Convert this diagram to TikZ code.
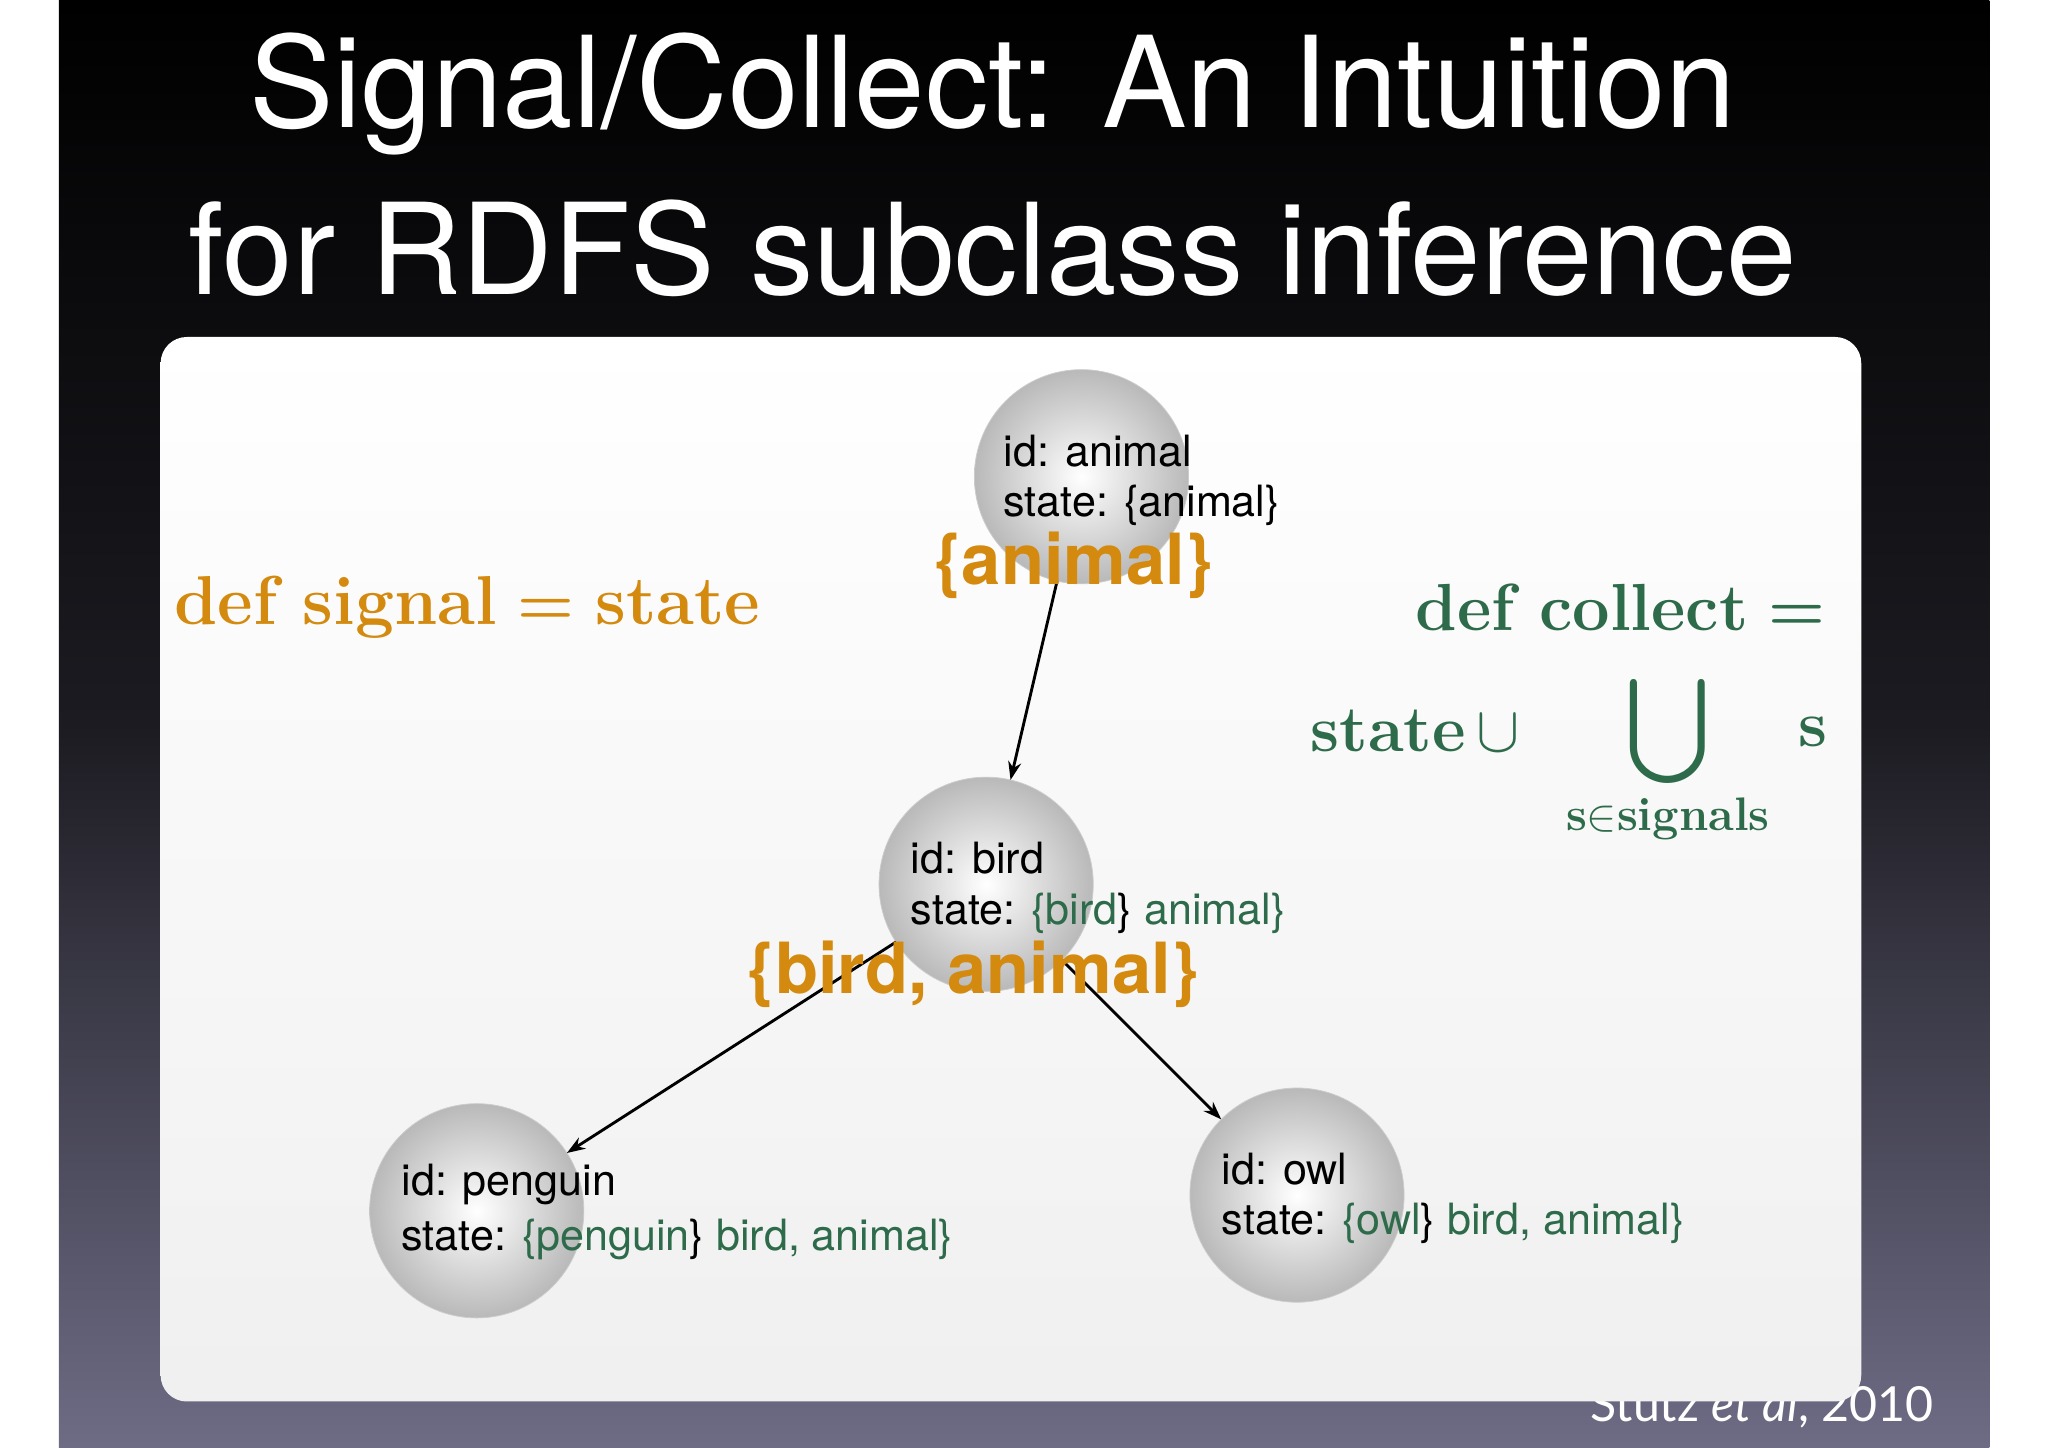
\documentclass[tikz,border=0pt]{standalone}
\usepackage{amsmath}
\usepackage{fontspec}
\setsansfont{TeX Gyre Heros}
\newfontfamily\gill{Lato}
\usetikzlibrary{arrows.meta}
\definecolor{sigor}{HTML}{D4890F}
\definecolor{colgr}{HTML}{2E6B4A}
\definecolor{bgbot}{HTML}{6E6C85}
\tikzset{
  ball/.style={circle,minimum size=82pt,inner sep=0pt,outer sep=0pt,shading=radial,inner color=white,outer color=gray!55,draw=gray!40,line width=0.3pt},
  info/.style={anchor=west,font=\sffamily\fontsize{16.5}{18}\selectfont,text=black,inner sep=0pt},
  sig/.style={font=\sffamily\bfseries\fontsize{27}{30}\selectfont,text=sigor,inner sep=0pt},
  edge/.style={-{Stealth[length=7pt,width=5pt]},line width=1.1pt}
}
\begin{document}
\begin{tikzpicture}[x=0.5pt,y=-0.5pt]
\useasboundingbox (0,0) rectangle (1568,1108);
\fill[white] (0,0) rectangle (1568,1108);
\shade[top color=black,bottom color=bgbot,middle color=black!75!bgbot] (45,0) rectangle (1523,1108);
\node[text=white,font=\gill\fontsize{18.5}{20}\selectfont,anchor=east,inner sep=0pt] (cite) at (1481,1077) {Stutz \textit{et al}, 2010};
\shade[rounded corners=10pt,top color=white,bottom color=gray!12] (123,258) rectangle (1425,1073);
\node[text=white,font=\sffamily\fontsize{48.5}{54}\selectfont,inner sep=0pt] (t1) at (760,72) {Signal/Collect: An Intuition};
\node[text=white,font=\sffamily\fontsize{48.5}{54}\selectfont,inner sep=0pt] (t2) at (760,190) {for RDFS subclass inference};
% balls
\node[ball] (animal) at (828,365) {};
\node[ball] (bird) at (755,677) {};
\node[ball] (penguin) at (365,927) {};
\node[ball] (owl) at (993,915) {};
% texts
\node[info] (a1) at (768,345) {id: animal};
\node[info] (a2) at (768,387) {state: \{animal\}};
\node[info] (b1) at (697,657) {id: bird};
\node[info] (b2) at (697,699) {state: \textcolor{colgr}{\{bird}\}~\textcolor{colgr}{animal\}}};
\node[info] (p1) at (307,907) {id: penguin};
\node[info] (p2) at (307,949) {state: \textcolor{colgr}{\{penguin}\}~\textcolor{colgr}{bird, animal\}}};
\node[info] (o1) at (935,895) {id: owl};
\node[info] (o2) at (935,937) {state: \textcolor{colgr}{\{owl}\}~\textcolor{colgr}{bird, animal\}}};
% edges
\draw[edge] (animal) -- (bird);
\draw[edge] (bird) -- (penguin);
\draw[edge] (bird) -- (owl);
% signals
\node[sig] (sa) at (822,433) {\{animal\}};
\node[sig] (sb) at (745,746) {\{bird, animal\}};
% formulas
\node[anchor=west,text=sigor,inner sep=0pt,font=\fontsize{26.5}{28}\selectfont] (defs) at (133,465) {\textbf{def signal} $\boldsymbol{=}$ \textbf{state}};
\node[anchor=east,text=colgr,inner sep=0pt,font=\fontsize{25.5}{28}\selectfont] (defc) at (1398,465) {\textbf{def collect} $\boldsymbol{=}$};
\node[anchor=west,text=colgr,inner sep=0pt,font=\fontsize{25}{28}\selectfont] (st) at (1003,560) {\textbf{state}\,$\cup$};
\node[text=colgr,inner sep=0pt,font=\fontsize{25}{28}\selectfont] (bc) at (1277,560) {\scalebox{1.6}{$\bigcup$}};
\node[text=colgr,inner sep=0pt,font=\fontsize{25}{28}\selectfont] (ss) at (1388,560) {\textbf{s}};
\node[text=colgr,inner sep=0pt,font=\fontsize{18}{20}\selectfont] (sub) at (1277,627) {\textbf{s}$\in$\textbf{signals}};
\end{tikzpicture}
\end{document}
